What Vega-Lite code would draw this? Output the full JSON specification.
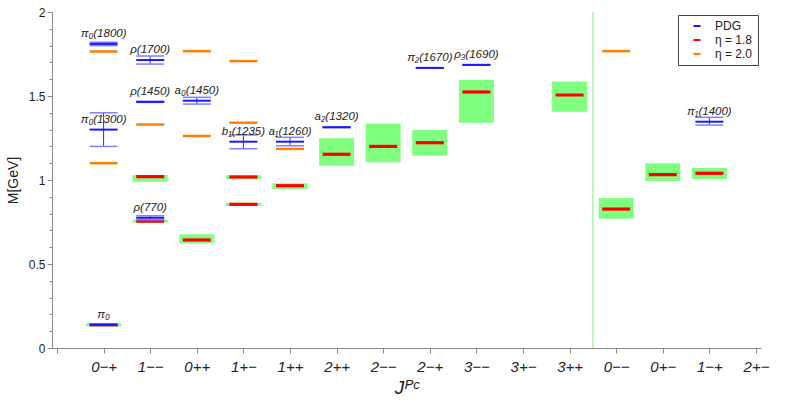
{
  "$schema": "https://vega.github.io/schema/vega-lite/v6.json",
  "width": 709,
  "height": 336,
  "autosize": "none",
  "padding": {"left": 52, "top": 12, "right": 28, "bottom": 64},
  "background": "white",
  "datasets": {
    "pdg": [
      {"jpc": "0−+", "col": 1, "series": "PDG", "name": "π₀", "m": 0.137, "lo": 0.137, "hi": 0.137},
      {"jpc": "0−+", "col": 1, "series": "PDG", "name": "π₀(1300)", "m": 1.3, "lo": 1.2, "hi": 1.4},
      {"jpc": "0−+", "col": 1, "series": "PDG", "name": "π₀(1800)", "m": 1.81, "lo": 1.8, "hi": 1.82},
      {"jpc": "1−−", "col": 2, "series": "PDG", "name": "ρ(770)", "m": 0.775, "lo": 0.763, "hi": 0.787},
      {"jpc": "1−−", "col": 2, "series": "PDG", "name": "ρ(1450)", "m": 1.465, "lo": 1.462, "hi": 1.468},
      {"jpc": "1−−", "col": 2, "series": "PDG", "name": "ρ(1700)", "m": 1.714, "lo": 1.69, "hi": 1.738},
      {"jpc": "0++", "col": 3, "series": "PDG", "name": "a₀(1450)", "m": 1.472, "lo": 1.452, "hi": 1.492},
      {"jpc": "1+−", "col": 4, "series": "PDG", "name": "b₁(1235)", "m": 1.228, "lo": 1.186, "hi": 1.268},
      {"jpc": "1++", "col": 5, "series": "PDG", "name": "a₁(1260)", "m": 1.228, "lo": 1.204, "hi": 1.254},
      {"jpc": "2++", "col": 6, "series": "PDG", "name": "a₂(1320)", "m": 1.314, "lo": 1.312, "hi": 1.316},
      {"jpc": "2−+", "col": 8, "series": "PDG", "name": "π₂(1670)", "m": 1.667, "lo": 1.665, "hi": 1.669},
      {"jpc": "3−−", "col": 9, "series": "PDG", "name": "ρ₃(1690)", "m": 1.685, "lo": 1.683, "hi": 1.687},
      {"jpc": "1−+", "col": 14, "series": "PDG", "name": "π₁(1400)", "m": 1.347, "lo": 1.327, "hi": 1.373}
    ],
    "eta18": [
      {"jpc": "0−+", "col": 1, "series": "η = 1.8", "m": 0.138, "lo": 0.128, "hi": 0.148},
      {"jpc": "1−−", "col": 2, "series": "η = 1.8", "m": 0.755, "lo": 0.747, "hi": 0.763},
      {"jpc": "1−−", "col": 2, "series": "η = 1.8", "m": 1.02, "lo": 0.99, "hi": 1.03},
      {"jpc": "0++", "col": 3, "series": "η = 1.8", "m": 0.643, "lo": 0.623, "hi": 0.677},
      {"jpc": "1+−", "col": 4, "series": "η = 1.8", "m": 0.855, "lo": 0.845, "hi": 0.865},
      {"jpc": "1+−", "col": 4, "series": "η = 1.8", "m": 1.018, "lo": 1.005, "hi": 1.028},
      {"jpc": "1++", "col": 5, "series": "η = 1.8", "m": 0.966, "lo": 0.946, "hi": 0.98},
      {"jpc": "2++", "col": 6, "series": "η = 1.8", "m": 1.153, "lo": 1.085, "hi": 1.248},
      {"jpc": "2−−", "col": 7, "series": "η = 1.8", "m": 1.2, "lo": 1.105, "hi": 1.337},
      {"jpc": "2−+", "col": 8, "series": "η = 1.8", "m": 1.222, "lo": 1.145, "hi": 1.298},
      {"jpc": "3−−", "col": 9, "series": "η = 1.8", "m": 1.524, "lo": 1.341, "hi": 1.595},
      {"jpc": "3++", "col": 11, "series": "η = 1.8", "m": 1.506, "lo": 1.406, "hi": 1.587},
      {"jpc": "0−−", "col": 12, "series": "η = 1.8", "m": 0.827, "lo": 0.77, "hi": 0.893},
      {"jpc": "0+−", "col": 13, "series": "η = 1.8", "m": 1.032, "lo": 0.994, "hi": 1.099},
      {"jpc": "1−+", "col": 14, "series": "η = 1.8", "m": 1.04, "lo": 1.004, "hi": 1.071}
    ],
    "eta20": [
      {"jpc": "0−+", "col": 1, "series": "η = 2.0", "m": 1.1},
      {"jpc": "0−+", "col": 1, "series": "η = 2.0", "m": 1.765},
      {"jpc": "1−−", "col": 2, "series": "η = 2.0", "m": 1.33},
      {"jpc": "0++", "col": 3, "series": "η = 2.0", "m": 1.262},
      {"jpc": "0++", "col": 3, "series": "η = 2.0", "m": 1.767},
      {"jpc": "1+−", "col": 4, "series": "η = 2.0", "m": 1.341},
      {"jpc": "1+−", "col": 4, "series": "η = 2.0", "m": 1.708},
      {"jpc": "1++", "col": 5, "series": "η = 2.0", "m": 1.185},
      {"jpc": "0−−", "col": 12, "series": "η = 2.0", "m": 1.767}
    ],
    "separator": [{"boundary": 11.5, "lo": 0, "hi": 2}]
  },
  "layer": [
    {
      "data": {"name": "separator"},
      "mark": {"type": "rule", "color": "#88ee88", "strokeWidth": 1},
      "encoding": {
        "x": {"field": "boundary", "type": "quantitative"},
        "y": {"field": "lo", "type": "quantitative"},
        "y2": {"field": "hi"}
      }
    },
    {
      "data": {"name": "eta18"},
      "mark": {"type": "bar", "orient": "vertical", "width": 35, "color": "#80ff80", "opacity": 1},
      "encoding": {
        "x": {"field": "col", "type": "quantitative"},
        "y": {"field": "lo", "type": "quantitative"},
        "y2": {"field": "hi"}
      }
    },
    {
      "data": {"name": "eta20"},
      "mark": {"type": "tick", "orient": "horizontal", "size": 28, "thickness": 2.5, "opacity": 1},
      "encoding": {
        "x": {"field": "col", "type": "quantitative"},
        "y": {"field": "m", "type": "quantitative"},
        "color": {"field": "series", "type": "nominal", "title": null}
      }
    },
    {
      "data": {"name": "eta18"},
      "mark": {"type": "tick", "orient": "horizontal", "size": 28, "thickness": 3.2, "opacity": 1},
      "encoding": {
        "x": {"field": "col", "type": "quantitative"},
        "y": {"field": "m", "type": "quantitative"},
        "color": {"field": "series", "type": "nominal", "title": null}
      }
    },
    {
      "data": {"name": "pdg"},
      "mark": {"type": "rule", "color": "#2a2aff", "strokeWidth": 1},
      "encoding": {
        "x": {"field": "col", "type": "quantitative"},
        "y": {"field": "lo", "type": "quantitative"},
        "y2": {"field": "hi"}
      }
    },
    {
      "data": {"name": "pdg"},
      "mark": {"type": "tick", "orient": "horizontal", "size": 28, "thickness": 1.5, "color": "#8080ff", "opacity": 1},
      "encoding": {
        "x": {"field": "col", "type": "quantitative"},
        "y": {"field": "lo", "type": "quantitative"}
      }
    },
    {
      "data": {"name": "pdg"},
      "mark": {"type": "tick", "orient": "horizontal", "size": 28, "thickness": 1.5, "color": "#8080ff", "opacity": 1},
      "encoding": {
        "x": {"field": "col", "type": "quantitative"},
        "y": {"field": "hi", "type": "quantitative"}
      }
    },
    {
      "data": {"name": "pdg"},
      "mark": {"type": "tick", "orient": "horizontal", "size": 28, "thickness": 2, "opacity": 1},
      "encoding": {
        "x": {"field": "col", "type": "quantitative"},
        "y": {"field": "m", "type": "quantitative"},
        "color": {"field": "series", "type": "nominal", "title": null}
      }
    },
    {
      "data": {"name": "pdg"},
      "mark": {"type": "text", "font": "Liberation Sans", "fontStyle": "italic", "fontSize": 11.5, "color": "#222222", "baseline": "middle", "align": "center", "dy": -10},
      "encoding": {
        "x": {"field": "col", "type": "quantitative"},
        "y": {"field": "m", "type": "quantitative"},
        "text": {"field": "name"}
      }
    }
  ],
  "encoding": {
    "x": {
      "type": "quantitative",
      "scale": {"domain": [0, 15], "nice": false, "zero": false},
      "axis": {
        "title": "Jᴾᶜ",
        "values": [0, 1, 2, 3, 4, 5, 6, 7, 8, 9, 10, 11, 12, 13, 14, 15],
        "labelExpr": "['','0−+','1−−','0++','1+−','1++','2++','2−−','2−+','3−−','3+−','3++','0−−','0+−','1−+','2+−'][datum.value]",
        "grid": false,
        "domainColor": "#888888",
        "tickColor": "#888888",
        "tickSize": 5,
        "labelFont": "Liberation Sans",
        "labelFontStyle": "italic",
        "labelFontSize": 15,
        "labelColor": "#222222",
        "labelPadding": 6,
        "labelFlush": false,
        "labelOverlap": false,
        "titleFont": "Liberation Sans",
        "titleFontStyle": "italic",
        "titleFontWeight": "normal",
        "titleFontSize": 19,
        "titleColor": "#222222",
        "titlePadding": 4
      }
    },
    "y": {
      "type": "quantitative",
      "scale": {"domain": [0, 2], "nice": false},
      "axis": {
        "title": "M[GeV]",
        "values": [0, 0.1, 0.2, 0.3, 0.4, 0.5, 0.6, 0.7, 0.8, 0.9, 1, 1.1, 1.2, 1.3, 1.4, 1.5, 1.6, 1.7, 1.8, 1.9, 2],
        "labelExpr": "abs(datum.value * 2 - round(datum.value * 2)) < 0.001 ? format(datum.value, '~g') : ''",
        "tickSize": {"condition": {"test": "abs(datum.value * 2 - round(datum.value * 2)) < 0.001", "value": 5}, "value": 3},
        "grid": false,
        "domainColor": "#888888",
        "tickColor": "#888888",
        "labelFont": "Liberation Sans",
        "labelFontSize": 12,
        "labelColor": "#222222",
        "labelPadding": 2,
        "labelFlush": false,
        "labelOverlap": false,
        "titleFont": "Liberation Sans",
        "titleFontWeight": "normal",
        "titleFontSize": 14,
        "titleColor": "#222222",
        "titlePadding": 8
      }
    }
  },
  "resolve": {"scale": {"x": "shared", "y": "shared"}},
  "config": {
    "view": {"stroke": null},
    "range": {"category": ["#1a1aff", "#ff0000", "#ff8000"]},
    "legend": {
      "orient": "none",
      "legendX": 626,
      "legendY": 3,
      "strokeColor": "#444444",
      "fillColor": "white",
      "padding": 5,
      "symbolOffset": 8,
      "symbolType": "M-1,-0.3L1,-0.3L1,0.3L-1,0.3Z",
      "symbolSize": 49,
      "symbolStrokeWidth": 0,
      "symbolOpacity": 1,
      "labelAlign": "left",
      "labelOffset": 12,
      "labelFont": "Liberation Sans",
      "labelFontSize": 12,
      "labelColor": "#222222",
      "rowPadding": 2,
      "cornerRadius": 0
    }
  }
}
